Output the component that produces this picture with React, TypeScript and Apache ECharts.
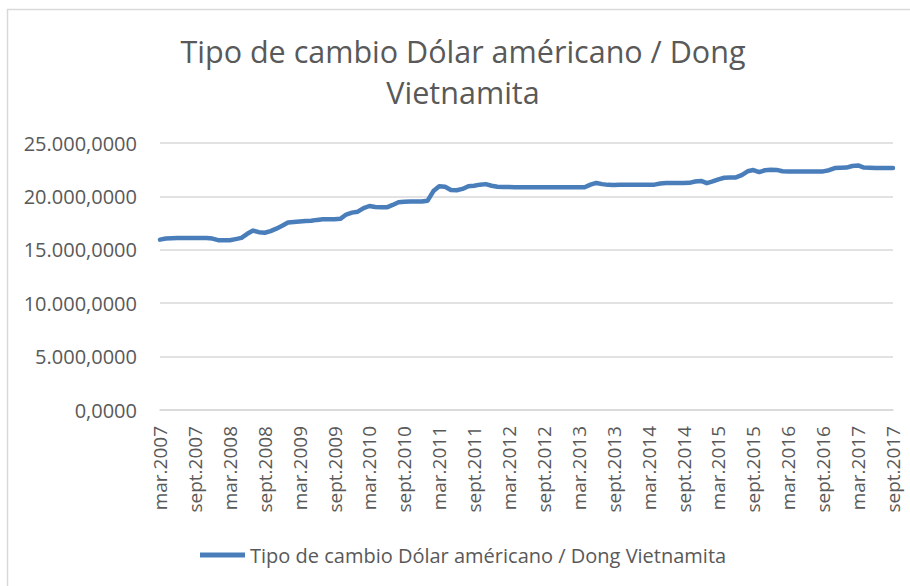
import React, { useEffect, useRef } from "react";
import * as echarts from "echarts";

const monthNames = ["ene", "feb", "mar", "abr", "may", "jun", "jul", "ago", "sept", "oct", "nov", "dic"];
const startYear = 2007;
const startMonth = 2; // mar
const categories: string[] = [];
for (let k = 0; k < 127; k++) {
  const m = (startMonth + k) % 12;
  const y = startYear + Math.floor((startMonth + k) / 12);
  categories.push(monthNames[m] + "." + y);
}

const seriesName = "Tipo de cambio Dólar américano / Dong Vietnamita";
const titleText = "Tipo de cambio Dólar américano / Dong\nVietnamita";

const rates: number[] = [
  // 2007 mar-dic
  15950, 16050, 16080, 16100, 16100, 16100, 16100, 16100, 16110, 16050,
  // 2008
  15900, 15890, 15890, 16000, 16120, 16500, 16800, 16650, 16600, 16750, 16980, 17250,
  // 2009
  17550, 17600, 17650, 17700, 17720, 17800, 17850, 17870, 17870, 17900, 18300, 18480,
  // 2010
  18570, 18900, 19100, 19000, 18980, 18980, 19200, 19450, 19500, 19520, 19520, 19520,
  // 2011
  19600, 20500, 20950, 20900, 20600, 20580, 20700, 20950, 21000, 21100, 21150, 21000,
  // 2012
  20900, 20880, 20870, 20860, 20860, 20850, 20850, 20850, 20850, 20860, 20860, 20860,
  // 2013
  20860, 20860, 20860, 20860, 21100, 21260, 21150, 21080, 21070, 21080, 21080, 21080,
  // 2014
  21080, 21090, 21100, 21100, 21200, 21260, 21260, 21260, 21260, 21270, 21400, 21450,
  // 2015
  21240, 21400, 21600, 21750, 21770, 21780, 22000, 22350, 22470, 22280, 22450, 22500,
  // 2016
  22480, 22350, 22340, 22330, 22330, 22340, 22340, 22340, 22340, 22450, 22650, 22690,
  // 2017 ene-sept
  22700, 22850, 22900, 22700, 22680, 22670, 22670, 22670, 22660,
];

const yMin = 0;
const yMax = 25000;
const yInterval = 5000;

const fmt = (v: number) => {
  const s = Math.round(v).toString().replace(/\B(?=(\d{3})+(?!\d))/g, ".");
  return s + ",0000";
};

const FONT = "Open Sans";
const TXT = "#595959";

export default function App() {
  const ref = useRef<HTMLDivElement>(null);
  useEffect(() => {
    if (!ref.current) return;
    const chart = echarts.init(ref.current, null, { renderer: "svg" });
    chart.setOption({
      animation: false,
      backgroundColor: "#ffffff",
      textStyle: { fontFamily: FONT, color: TXT },
      graphic: [
        {
          type: "rect",
          shape: { x: 7.5, y: 9.5, width: 910, height: 600 },
          style: { fill: "none", stroke: "#d9d9d9", lineWidth: 1.5 },
          silent: true,
        },
      ],
      title: {
        text: titleText,
        left: 458,
        top: 25,
        textAlign: "center",
        textStyle: {
          fontFamily: FONT,
          fontSize: 30.5,
          fontWeight: "normal",
          color: TXT,
          lineHeight: 41,
        },
      },
      grid: { left: 160, right: 17, top: 143, bottom: 176, containLabel: false },
      legend: {
        left: 195,
        top: 540,
        icon: "rect",
        itemWidth: 45,
        itemHeight: 5,
        textStyle: { fontFamily: FONT, fontSize: 20, color: TXT },
        data: [seriesName],
      },
      xAxis: {
        type: "category",
        data: categories,
        boundaryGap: false,
        axisLine: { lineStyle: { color: "#d9d9d9", width: 1.5 } },
        axisTick: { show: false },
        axisLabel: {
          interval: 5,
          rotate: 90,
          fontFamily: FONT,
          fontSize: 19,
          color: TXT,
          margin: 16,
        },
      },
      yAxis: {
        type: "value",
        min: yMin,
        max: yMax,
        interval: yInterval,
        axisLine: { show: false },
        axisTick: { show: false },
        splitLine: { lineStyle: { color: "#d9d9d9", width: 1.5 } },
        axisLabel: {
          formatter: fmt,
          fontFamily: FONT,
          fontSize: 20,
          color: TXT,
          margin: 23,
        },
      },
      series: [
        {
          name: seriesName,
          type: "line",
          data: rates,
          showSymbol: false,
          symbol: "none",
          lineStyle: { color: "#4a7ebb", width: 4.5, cap: "round", join: "round" },
          itemStyle: { color: "#4a7ebb" },
        },
      ],
    });
    return () => chart.dispose();
  }, []);
  return <div ref={ref} style={{ width: 910, height: 586, position: "absolute", left: 0, top: 0 }} />;
}
